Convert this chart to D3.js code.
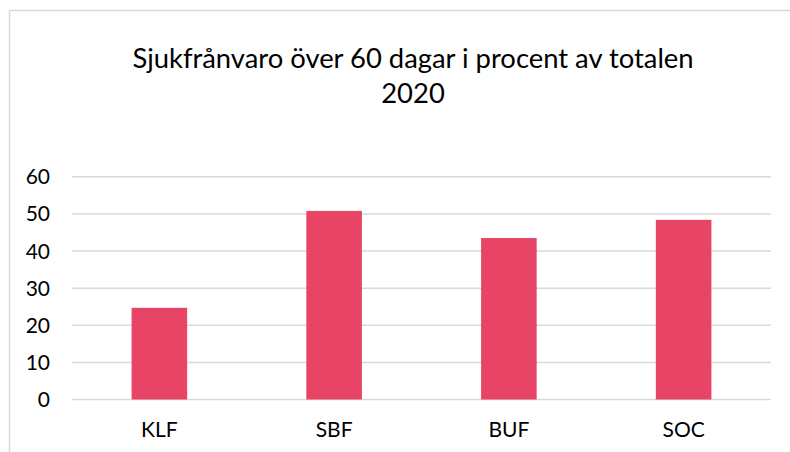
<!DOCTYPE html>
<html>
<head>
<meta charset="utf-8">
<script src="https://cdn.jsdelivr.net/npm/d3@7"></script>
<style>
  body { margin: 0; background: #fff; }
  svg { display: block; font-family: "Lato", "Open Sans", sans-serif; }
</style>
</head>
<body>
<svg id="chart" width="790" height="452"></svg>
<script>
// data
const categories = ["KLF", "SBF", "BUF", "SOC"];
const values = [24.7, 50.8, 43.5, 48.4];
const yTicks = [0, 10, 20, 30, 40, 50, 60];
const titleLines = ["Sjukfrånvaro över 60 dagar i procent av totalen", "2020"];

const svg = d3.select("#chart");

// chart frame (only left/top visible)
svg.append("rect")
    .attr("x", 9.5)
    .attr("y", 10.5)
    .attr("width", 800)
    .attr("height", 460)
    .attr("fill", "#fff")
    .attr("stroke", "#d9d9d9")
    .attr("stroke-width", 1.5);

const plot = { left: 72, right: 771, top: 176.8, bottom: 399.5 };

const x = d3.scaleBand()
    .domain(categories)
    .range([plot.left, plot.right])
    .paddingInner(0.682)
    .paddingOuter(0.341);

const y = d3.scaleLinear()
    .domain([0, 60])
    .range([plot.bottom, plot.top]);

// gridlines
svg.append("g")
    .selectAll("line")
    .data(yTicks)
    .join("line")
    .attr("x1", plot.left)
    .attr("x2", plot.right)
    .attr("y1", d => y(d))
    .attr("y2", d => y(d))
    .attr("stroke", "#d9d9d9")
    .attr("stroke-width", 1.5);

// y labels
svg.append("g")
    .selectAll("text")
    .data(yTicks)
    .join("text")
    .attr("x", 50)
    .attr("y", d => y(d))
    .attr("dy", "0.36em")
    .attr("text-anchor", "end")
    .attr("font-size", 21)
    .attr("fill", "#000")
    .text(d => d);

// bars
svg.append("g")
    .selectAll("rect")
    .data(values)
    .join("rect")
    .attr("x", (d, i) => x(categories[i]))
    .attr("y", d => y(d))
    .attr("width", x.bandwidth())
    .attr("height", d => y(0) - y(d))
    .attr("fill", "#e84466");

// x labels
svg.append("g")
    .selectAll("text")
    .data(categories)
    .join("text")
    .attr("x", d => x(d) + x.bandwidth() / 2)
    .attr("y", 437)
    .attr("text-anchor", "middle")
    .attr("font-size", 21)
    .attr("fill", "#000")
    .text(d => d);

// title
svg.append("g")
    .selectAll("text")
    .data(titleLines)
    .join("text")
    .attr("x", 413)
    .attr("y", (d, i) => 68 + i * 35)
    .attr("text-anchor", "middle")
    .attr("font-size", 27.4)
    .attr("fill", "#000")
    .text(d => d);
</script>
</body>
</html>
